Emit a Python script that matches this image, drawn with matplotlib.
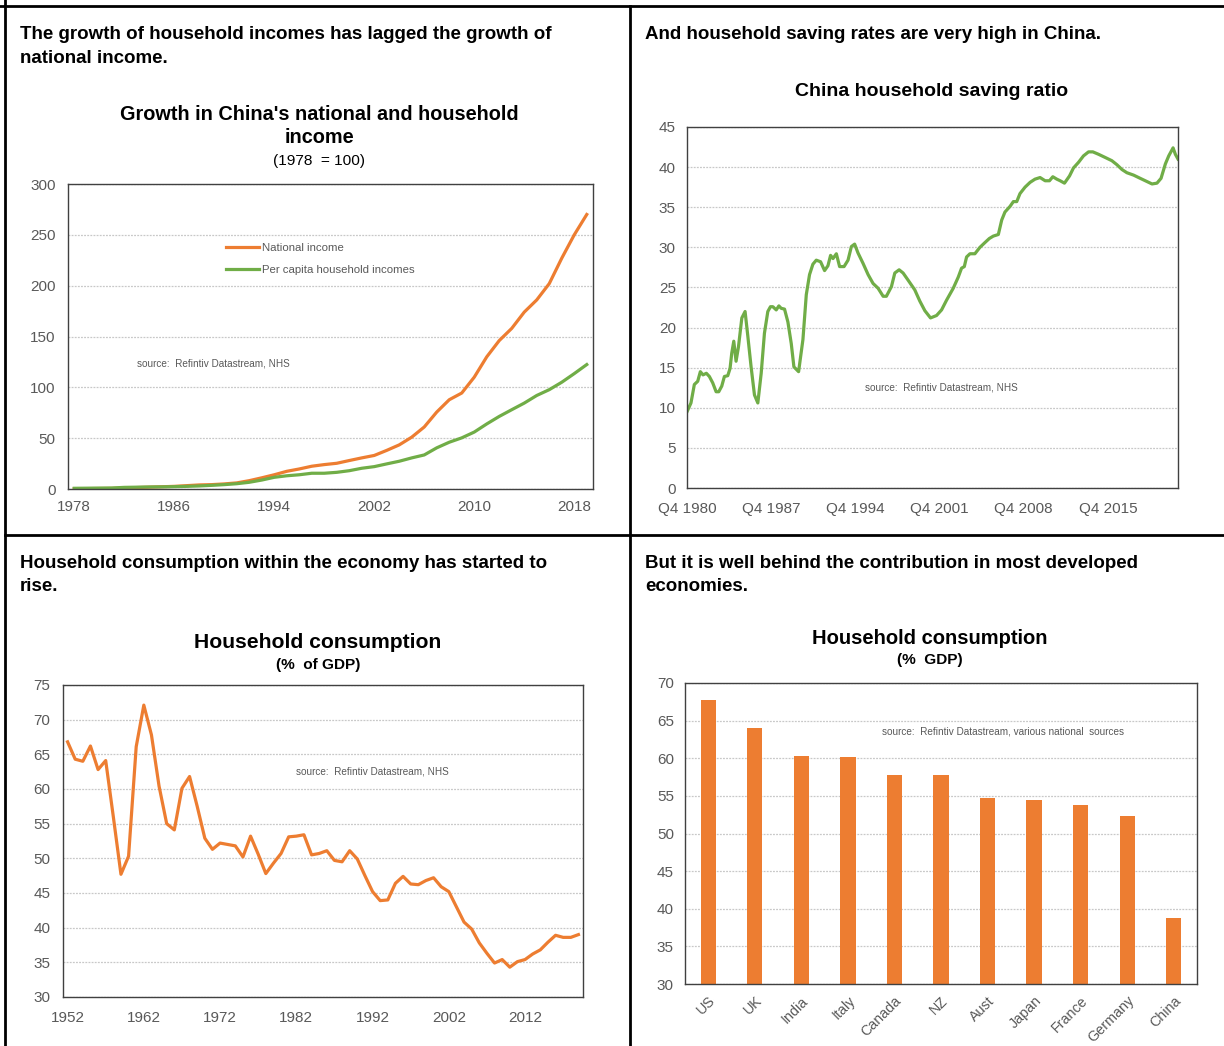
"""Four-panel China household income / saving / consumption chart."""
import matplotlib
matplotlib.use("Agg")
import matplotlib.pyplot as plt
from matplotlib.lines import Line2D

W, H, DPI = 1224, 1046, 100

ORANGE = "#ED7D31"
GREEN = "#70AD47"
GREY = "#595959"
GRID = "#c8c8c8"
FRAME = "#404040"

# --- panel 1: growth in national and household income (1978 = 100)
income_years = list(range(1978, 2020))
national_income = [0.4, 0.4, 0.5, 0.6, 1.0, 1.4, 1.8, 2.2, 2.6, 3.3, 4.0, 4.3,
                   5.0, 6.0, 8.2, 11.0, 14.0, 17.4, 19.7, 22.4, 24.0, 25.3,
                   28.0, 30.6, 33.0, 38.0, 43.4, 51.0, 61.0, 75.7, 87.8, 94.4,
                   110.0, 130.0, 146.0, 158.0, 174.0, 186.0, 202.0, 227.0,
                   250.0, 270.0]
household_income = [0.7, 0.8, 0.9, 1.0, 1.6, 1.8, 2.0, 2.1, 2.3, 2.6, 3.0, 3.6,
                    4.3, 5.2, 6.6, 8.8, 11.5, 13.0, 14.0, 15.5, 15.5, 16.4,
                    18.0, 20.4, 22.0, 24.7, 27.3, 30.6, 33.5, 40.5, 46.0, 50.3,
                    56.0, 64.0, 71.4, 78.0, 84.5, 92.0, 97.7, 105.0, 113.5,
                    122.4]
income_ticks = [1978, 1986, 1994, 2002, 2010, 2018]

# --- panel 2: household saving ratio, years after Q4 1980
saving_t = [0.00, 0.33, 0.61, 0.89, 1.11, 1.33, 1.61, 1.86, 2.14, 2.42, 2.64,
            2.89, 3.11, 3.39, 3.58, 3.72, 3.89, 4.08, 4.28, 4.56, 4.83, 5.06,
            5.33, 5.61, 5.89, 6.17, 6.44, 6.72, 6.94, 7.14, 7.42, 7.64, 7.83,
            8.11, 8.39, 8.67, 8.89, 9.28, 9.64, 9.92, 10.19, 10.47, 10.75,
            11.11, 11.44, 11.72, 11.94, 12.14, 12.42, 12.69, 13.06, 13.39,
            13.67, 13.94, 14.22, 14.64, 15.06, 15.47, 15.89, 16.31, 16.58,
            17.00, 17.28, 17.64, 17.97, 18.39, 18.94, 19.36, 19.78, 20.25,
            20.75, 21.17, 21.58, 22.14, 22.56, 22.83, 23.06, 23.25, 23.53,
            23.94, 24.36, 24.78, 25.14, 25.47, 25.89, 26.17, 26.44, 26.86,
            27.14, 27.42, 27.69, 28.11, 28.53, 28.94, 29.36, 29.78, 30.14,
            30.42, 30.75, 31.03, 31.39, 31.81, 32.14, 32.56, 32.97, 33.39,
            33.75, 34.22, 34.78, 35.33, 35.75, 36.17, 36.58, 37.14, 37.69,
            38.25, 38.67, 39.08, 39.42, 39.78, 40.06, 40.42, 40.61, 40.83]
saving_ratio = [9.5, 10.6, 12.9, 13.3, 14.5, 14.1, 14.3, 13.9, 13.1, 12.0, 12.0,
                12.7, 13.9, 14.0, 14.9, 16.8, 18.3, 15.8, 17.6, 21.2, 22.0, 18.9,
                15.1, 11.6, 10.6, 14.3, 19.3, 22.0, 22.6, 22.6, 22.2, 22.7, 22.4,
                22.3, 20.7, 18.0, 15.1, 14.5, 18.5, 24.1, 26.6, 27.9, 28.4,
                28.2, 27.1, 27.7, 29.0, 28.6, 29.2, 27.6, 27.6, 28.4,
                30.1, 30.4, 29.3, 28.0, 26.6, 25.5, 24.9, 23.9, 23.9,
                25.1, 26.8, 27.2, 26.8, 25.9, 24.7, 23.3, 22.1, 21.2,
                21.5, 22.2, 23.4, 24.9, 26.3, 27.4, 27.6, 28.8, 29.2,
                29.2, 30.0, 30.6, 31.1, 31.4, 31.6, 33.4, 34.4, 35.1,
                35.7, 35.7, 36.7, 37.5, 38.1, 38.5, 38.7, 38.3, 38.3,
                38.8, 38.5, 38.3, 38.0, 38.9, 39.9, 40.6, 41.4, 41.9,
                41.9, 41.6, 41.2, 40.8, 40.3, 39.7, 39.3, 39.0, 38.6,
                38.2, 37.9, 38.0, 38.6, 40.4, 41.4, 42.4, 41.6, 41.0]
saving_start = 1980.75
saving_span = 40.83
saving_tick_labels = ["Q4 1980", "Q4 1987", "Q4 1994", "Q4 2001", "Q4 2008",
                      "Q4 2015"]

# --- panel 3: household consumption, % of GDP
consumption_years = list(range(1952, 2020))
consumption_share = [66.8, 64.3, 64.0, 66.2, 62.8, 64.1, 56.0, 47.7, 50.3, 66.1,
                     72.1, 67.8, 60.4, 55.0, 54.1, 60.1, 61.8, 57.5, 52.9, 51.3,
                     52.2, 52.0, 51.8, 50.2, 53.2, 50.6, 47.8, 49.3, 50.7, 53.1,
                     53.2, 53.4, 50.5, 50.7, 51.1, 49.7, 49.5, 51.1, 49.9, 47.5,
                     45.2, 43.9, 44.0, 46.4, 47.4, 46.3, 46.2, 46.8, 47.2, 45.9,
                     45.2, 43.0, 40.8, 39.8, 37.8, 36.3, 34.9, 35.4, 34.3, 35.1,
                     35.4, 36.2, 36.8, 37.9, 38.9, 38.6, 38.6, 39.0]
consumption_ticks = [1952, 1962, 1972, 1982, 1992, 2002, 2012]

# --- panel 4: household consumption by country, % GDP
countries = ["US", "UK", "India", "Italy", "Canada", "NZ", "Aust", "Japan",
             "France", "Germany", "China"]
country_share = [67.8, 64.0, 60.3, 60.2, 57.8, 57.8, 54.7, 54.4, 53.8, 52.3,
                 38.8]

plt.rcParams["font.family"] = ["Liberation Sans", "DejaVu Sans"]

fig = plt.figure(figsize=(W / DPI, H / DPI), dpi=DPI)


def px_axes(left, top, right, bottom):
    return fig.add_axes([left / W, 1 - bottom / H, (right - left) / W,
                         (bottom - top) / H])


def ftext(x, y, s, **kw):
    fig.text(x / W, 1 - y / H, s, **kw)


def style(ax, yticks, ypad=9, xpad=8):
    ax.set_yticks(yticks)
    ax.set_ylim(yticks[0], yticks[-1])
    ax.grid(axis="y", color=GRID, lw=0.9, ls=(0, (1.5, 1)))
    ax.set_axisbelow(True)
    for sp in ax.spines.values():
        sp.set_color(FRAME)
        sp.set_linewidth(1.0)
    ax.tick_params(length=0, colors=GREY, labelsize=11)
    ax.tick_params(axis="y", pad=ypad)
    ax.tick_params(axis="x", pad=xpad)


# panel frames
for xs, ys in [([5, 5], [0, H]), ([0, W], [6, 6]), ([630, 630], [6, H]),
               ([5, W], [535, 535])]:
    fig.add_artist(Line2D([x / W for x in xs], [1 - y / H for y in ys],
                          color="black", lw=2.0, transform=fig.transFigure))

# headers
head_kw = dict(fontweight="bold", fontsize=13.5, va="baseline", color="black")
ftext(20, 39, "The growth of household incomes has lagged the growth of", **head_kw)
ftext(20, 63, "national income.", **head_kw)
ftext(645, 39, "And household saving rates are very high in China.", **head_kw)
ftext(20, 568, "Household consumption within the economy has started to", **head_kw)
ftext(20, 591, "rise.", **head_kw)
ftext(645, 568, "But it is well behind the contribution in most developed", **head_kw)
ftext(645, 591, "economies.", **head_kw)

title_kw = dict(fontweight="bold", ha="center", va="center", color="black")
sub_kw = dict(fontsize=11.1, ha="center", va="center", color="black")
src_kw = dict(fontsize=7.2, va="center", color=GREY)

# ---------------- panel 1
ax1 = px_axes(68, 184, 593, 489)
ax1.plot(income_years, national_income, color=ORANGE, lw=2.3,
         solid_joinstyle="round", label="National income")
ax1.plot(income_years, household_income, color=GREEN, lw=2.3,
         solid_joinstyle="round", label="Per capita household incomes")
ax1.set_xlim(1977.5, 2019.5)
ax1.set_xticks(income_ticks)
style(ax1, list(range(0, 301, 50)), ypad=9, xpad=8)
ax1.legend(loc="upper left", bbox_to_anchor=(226 / W, 1 - 243 / H),
           bbox_transform=fig.transFigure, frameon=False, fontsize=8.2,
           handlelength=2.9, handletextpad=0.3, labelspacing=1.05,
           borderpad=0, borderaxespad=0, labelcolor=GREY)
ftext(319, 115, "Growth in China's national and household", fontsize=14.3,
      **title_kw)
ftext(319, 138, "income", fontsize=14.3, **title_kw)
ftext(319, 161, "(1978  = 100)", **sub_kw)
ftext(137, 363, "source:  Refintiv Datastream, NHS", **src_kw)

# ---------------- panel 2
ax2 = px_axes(687, 127, 1178, 488)
ax2.plot([saving_start + t for t in saving_t], saving_ratio, color=GREEN,
         lw=2.3, solid_joinstyle="round")
ax2.set_xlim(saving_start, saving_start + saving_span)
ax2.set_xticks([saving_start + 7 * i for i in range(len(saving_tick_labels))])
ax2.set_xticklabels(saving_tick_labels)
style(ax2, list(range(0, 46, 5)), ypad=8, xpad=10)
ftext(932, 92, "China household saving ratio", fontsize=14, **title_kw)
ftext(865, 388, "source:  Refintiv Datastream, NHS", **src_kw)

# ---------------- panel 3
ax3 = px_axes(63, 685, 583, 997)
ax3.plot(consumption_years, consumption_share, color=ORANGE, lw=2.3,
         solid_joinstyle="round")
ax3.set_xlim(1951.4, 2019.6)
ax3.set_xticks(consumption_ticks)
style(ax3, list(range(30, 76, 5)), ypad=9, xpad=10)
ftext(318, 642, "Household consumption", fontsize=15.2, **title_kw)
ftext(318, 665, "(%  of GDP)", fontweight="bold", **sub_kw)
ftext(296, 771, "source:  Refintiv Datastream, NHS", **src_kw)

# ---------------- panel 4
ax4 = px_axes(685, 683, 1197, 984)
ax4.bar(range(len(countries)), country_share, width=0.33, color=ORANGE)
ax4.set_xlim(-0.5, len(countries) - 0.5)
ax4.set_xticks(range(len(countries)))
ax4.set_xticklabels(countries, rotation=45, ha="right", rotation_mode="anchor")
style(ax4, list(range(30, 71, 5)), ypad=8, xpad=7)
ax4.tick_params(axis="x", labelsize=10.3)
ftext(930, 639, "Household consumption", fontsize=14.5, **title_kw)
ftext(930, 660, "(%  GDP)", fontweight="bold", **sub_kw)
ftext(882, 732, "source:  Refintiv Datastream, various national  sources",
      **src_kw)

fig.savefig("out.png", dpi=DPI)
